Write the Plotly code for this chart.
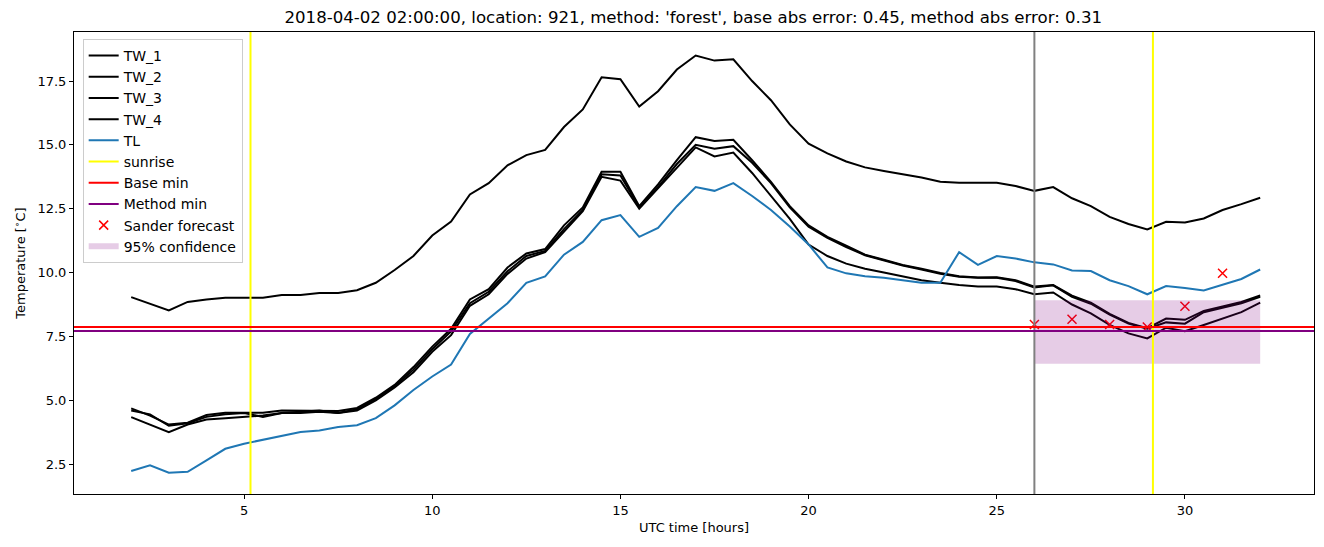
import plotly.graph_objects as go

hours = [2.0 + 0.5 * i for i in range(61)]

tw_1 = [9.04, 8.78, 8.52, 8.85, 8.95, 9.01, 9.01, 9.01, 9.12, 9.12,
        9.2, 9.2, 9.31, 9.6, 10.1, 10.65, 11.45, 12.0, 13.06, 13.5,
        14.2, 14.6, 14.8, 15.7, 16.39, 17.65, 17.57, 16.5, 17.1, 17.95,
        18.5, 18.3, 18.35, 17.5, 16.75, 15.8, 15.05, 14.67, 14.35, 14.12,
        13.98, 13.86, 13.72, 13.56, 13.52, 13.52, 13.52, 13.39, 13.2, 13.35,
        12.91, 12.6, 12.18, 11.9, 11.69, 11.99, 11.96, 12.12, 12.45, 12.68,
        12.93]
tw_2 = [4.68, 4.4, 4.05, 4.12, 4.42, 4.51, 4.51, 4.51, 4.6, 4.6,
        4.6, 4.58, 4.7, 5.1, 5.6, 6.3, 7.1, 7.8, 8.95, 9.35,
        10.2, 10.75, 10.92, 11.85, 12.55, 13.95, 13.95, 12.6, 13.45, 14.4,
        15.3, 15.15, 15.2, 14.4, 13.55, 12.6, 11.85, 11.4, 11.05, 10.7,
        10.5, 10.3, 10.15, 9.98, 9.86, 9.81, 9.82, 9.7, 9.45, 9.51,
        9.1, 8.82, 8.38, 8.03, 7.82, 8.2, 8.15, 8.5, 8.67, 8.85,
        9.1]
tw_3 = [4.6, 4.45, 4.0, 4.1, 4.35, 4.45, 4.5, 4.35, 4.5, 4.55,
        4.6, 4.5, 4.65, 5.05, 5.55, 6.2, 7.0, 7.7, 8.8, 9.25,
        10.05, 10.65, 10.85, 11.7, 12.45, 13.85, 13.8, 12.55, 13.35, 14.25,
        15.0, 14.85, 14.95, 14.3, 13.5, 12.55, 11.8, 11.36, 11.0, 10.68,
        10.48, 10.28, 10.12, 9.95, 9.84, 9.8, 9.8, 9.67, 9.42, 9.5,
        9.05, 8.78, 8.35, 8.0, 7.8, 8.05, 8.0, 8.45, 8.62, 8.8,
        9.05]
tw_4 = [4.34, 4.05, 3.75, 4.05, 4.25, 4.3, 4.35, 4.4, 4.5, 4.5,
        4.55, 4.5, 4.6, 5.0, 5.5, 6.1, 6.9, 7.55, 8.7, 9.15,
        9.95, 10.55, 10.8, 11.6, 12.4, 13.75, 13.6, 12.5, 13.3, 14.1,
        14.9, 14.55, 14.7, 13.9, 13.0, 12.1, 11.1, 10.65, 10.35, 10.15,
        10.0, 9.85, 9.7, 9.6, 9.51, 9.45, 9.45, 9.35, 9.15, 9.22,
        8.75, 8.4, 7.95, 7.62, 7.42, 7.84, 7.7, 7.95, 8.2, 8.45,
        8.82]
tl = [2.23, 2.45, 2.16, 2.2, 2.65, 3.1, 3.3, 3.45, 3.62, 3.76,
      3.82, 3.95, 4.02, 4.3, 4.8, 5.4, 5.93, 6.4, 7.6, 8.2,
      8.8, 9.6, 9.85, 10.7, 11.2, 12.05, 12.25, 11.4, 11.75, 12.6,
      13.35, 13.2, 13.5, 13.0, 12.45, 11.8, 11.1, 10.2, 9.97, 9.86,
      9.8, 9.7, 9.6, 9.6, 10.8, 10.3, 10.65, 10.55, 10.4, 10.32,
      10.08, 10.06, 9.7, 9.47, 9.15, 9.47, 9.4, 9.3, 9.54, 9.75,
      10.12]

sunrise = [5.17, 29.15]
forecast_start = 26.0
base_min = 7.87
method_min = 7.71

sander_hours = [26, 27, 28, 29, 30, 31]
sander_values = [7.97, 8.17, 7.97, 7.87, 8.68, 9.97]

conf_hours = [26.0, 32.0]
conf_low = 6.43
conf_high = 8.92

title = ("2018-04-02 02:00:00, location: 921, method: 'forest', "
         "base abs error: 0.45, method abs error: 0.31")

fig = go.Figure()
for name, vals in [("TW_1", tw_1), ("TW_2", tw_2), ("TW_3", tw_3), ("TW_4", tw_4)]:
    fig.add_trace(go.Scatter(x=hours, y=vals, mode="lines", name=name,
                             line=dict(color="black", width=2)))
fig.add_trace(go.Scatter(x=hours, y=tl, mode="lines", name="TL",
                         line=dict(color="#1f77b4", width=2)))
# legend-only entries for reference lines
fig.add_trace(go.Scatter(x=[None], y=[None], mode="lines", name="sunrise",
                         line=dict(color="yellow", width=2)))
fig.add_trace(go.Scatter(x=[None], y=[None], mode="lines", name="Base min",
                         line=dict(color="red", width=2)))
fig.add_trace(go.Scatter(x=[None], y=[None], mode="lines", name="Method min",
                         line=dict(color="purple", width=2)))
fig.add_trace(go.Scatter(x=sander_hours, y=sander_values, mode="markers",
                         name="Sander forecast",
                         marker=dict(symbol="x-thin", size=9, color="red",
                                     line=dict(color="red", width=1.5))))
fig.add_trace(go.Scatter(
    x=[conf_hours[0], conf_hours[1], conf_hours[1], conf_hours[0], conf_hours[0]],
    y=[conf_low, conf_low, conf_high, conf_high, conf_low],
    mode="none", fill="toself", fillcolor="rgba(128,0,128,0.2)",
    name="95% confidence"))

for s in sunrise:
    fig.add_shape(type="line", x0=s, x1=s, y0=0, y1=1, xref="x", yref="paper",
                  line=dict(color="yellow", width=2), layer="above")
fig.add_shape(type="line", x0=forecast_start, x1=forecast_start, y0=0, y1=1,
              xref="x", yref="paper", line=dict(color="gray", width=2), layer="above")
fig.add_shape(type="line", x0=0, x1=1, y0=base_min, y1=base_min, xref="paper",
              yref="y", line=dict(color="red", width=2), layer="above")
fig.add_shape(type="line", x0=0, x1=1, y0=method_min, y1=method_min, xref="paper",
              yref="y", line=dict(color="purple", width=2), layer="above")

axis_common = dict(showgrid=False, zeroline=False, showline=True, linecolor="black",
                   linewidth=1, mirror=True, ticks="outside", ticklen=4,
                   tickcolor="black", tickfont=dict(size=13, color="black"))
fig.update_xaxes(range=[0.48, 33.43], tickmode="array", tickvals=[5, 10, 15, 20, 25, 30],
                 title=dict(text="UTC time [hours]", font=dict(size=13, color="black"),
                            standoff=6),
                 **axis_common)
fig.update_yaxes(range=[1.33, 19.42], tickmode="array",
                 tickvals=[2.5, 5.0, 7.5, 10.0, 12.5, 15.0, 17.5],
                 ticktext=["2.5", "5.0", "7.5", "10.0", "12.5", "15.0", "17.5"],
                 title=dict(text="Temperature [<sup>∘</sup>C]",
                            font=dict(size=13, color="black"), standoff=8),
                 **axis_common)

fig.update_layout(
    width=1324, height=547,
    margin=dict(l=74, r=10, t=32, b=53),
    paper_bgcolor="white", plot_bgcolor="white",
    font=dict(family="DejaVu Sans", color="black"),
    title=dict(text=title, x=0.5236, xanchor="center", y=0.968, yanchor="middle",
               font=dict(size=16.6, color="black")),
    legend=dict(x=0.007, y=0.985, xanchor="left", yanchor="top",
                bgcolor="rgba(255,255,255,0.8)", bordercolor="#cccccc", borderwidth=1,
                font=dict(size=14, color="black"), tracegroupgap=0),
    showlegend=True,
)

fig.write_html("out.html")
